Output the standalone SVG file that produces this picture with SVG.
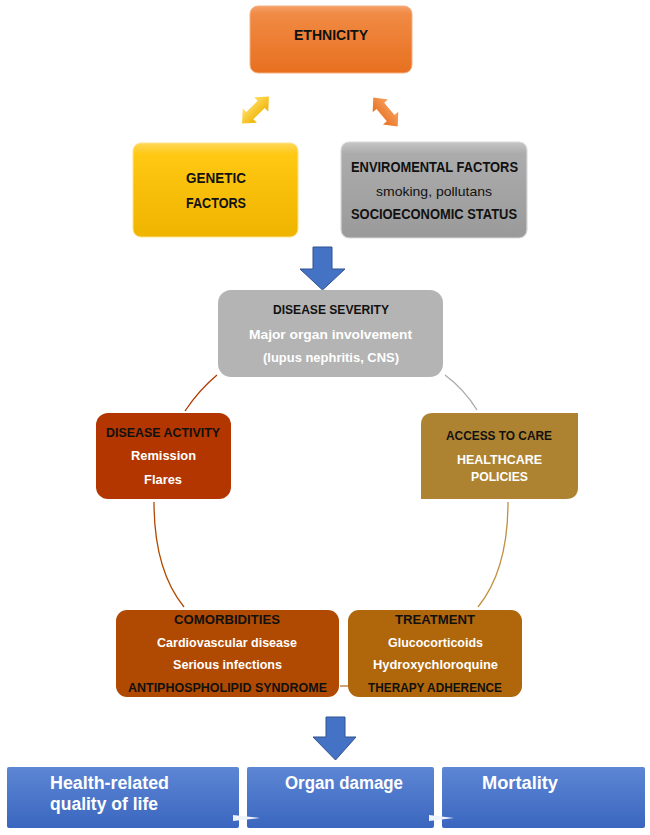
<svg xmlns="http://www.w3.org/2000/svg" width="650" height="835" viewBox="0 0 650 835">
<style>
text{font-family:"Liberation Sans",Arial,sans-serif;text-anchor:middle}
.b{font-weight:bold}
.k{fill:#111}
.w{fill:#fff}
.t13{font-size:13.5px}
.t14{font-size:14.5px}
.t18{font-size:18px;text-anchor:start}
.con{fill:none;stroke-width:1.3}
.blue{fill:#4472c4;stroke:#2f528f;stroke-width:1}
</style>
<defs>
<linearGradient id="gOr" x1="0" y1="0" x2="0" y2="1"><stop offset="0" stop-color="#f6a06a"/><stop offset="0.12" stop-color="#f08a44"/><stop offset="1" stop-color="#e8701f"/></linearGradient>
<linearGradient id="gYe" x1="0" y1="0" x2="0" y2="1"><stop offset="0" stop-color="#ffd75a"/><stop offset="0.12" stop-color="#ffc812"/><stop offset="1" stop-color="#efb400"/></linearGradient>
<linearGradient id="gGr" x1="0" y1="0" x2="0" y2="1"><stop offset="0" stop-color="#c6c6c6"/><stop offset="0.12" stop-color="#acacac"/><stop offset="1" stop-color="#9a9a9a"/></linearGradient>
<linearGradient id="gBl" x1="0" y1="0" x2="0" y2="1"><stop offset="0" stop-color="#5d86d4"/><stop offset="1" stop-color="#3a66bf"/></linearGradient>
<linearGradient id="gYA" x1="0" y1="0" x2="0" y2="1"><stop offset="0" stop-color="#ffe066"/><stop offset="1" stop-color="#f0b000"/></linearGradient>
<linearGradient id="gOA" x1="0" y1="0" x2="0" y2="1"><stop offset="0" stop-color="#f7a060"/><stop offset="1" stop-color="#e8701f"/></linearGradient>
<polygon id="dbl" points="-19,0 -8,-10 -8,-5 8,-5 8,-10 19,0 8,10 8,5 -8,5 -8,10"/>
</defs>

<g id="connectors">
<use href="#dbl" fill="url(#gYA)" transform="translate(255.5,110) rotate(-45)"/>
<use href="#dbl" fill="url(#gOA)" transform="translate(385.5,112) rotate(50)"/>
<polygon class="blue" points="313,247 332,247 332,269 345,269 322.5,290 300,269 313,269"/>
<path class="con" stroke="#b33600" d="M217,375 Q199,390 185,411"/>
<path class="con" stroke="#aaaaaa" d="M445,375 Q464,389 477,410"/>
<path class="con" stroke="#b04a00" d="M154,502 Q154,570 184,607"/>
<path class="con" stroke="#c09040" d="M508,502 Q508,570 478,607"/>
<path class="con" stroke="#b07030" d="M340,686 L348,686"/>
<polygon class="blue" points="326,717 345,717 345,737 356,737 335.5,760 313,737 326,737"/>
</g>

<g id="ethnicity">
<rect x="250" y="6" width="162" height="67" rx="8" fill="url(#gOr)" stroke="#f4b183" stroke-width="1"/>
<text class="b k t14" x="331" y="39.5" textLength="74" lengthAdjust="spacingAndGlyphs">ETHNICITY</text>
</g>

<g id="genetic">
<rect x="133" y="143" width="165" height="94" rx="8" fill="url(#gYe)" stroke="#ffe38a" stroke-width="1"/>
<text class="b k t14" x="216" y="183" textLength="60" lengthAdjust="spacingAndGlyphs">GENETIC</text>
<text class="b k t14" x="216" y="208" textLength="60" lengthAdjust="spacingAndGlyphs">FACTORS</text>
</g>

<g id="environmental">
<rect x="341" y="142" width="186" height="96" rx="8" fill="url(#gGr)" stroke="#d9d9d9" stroke-width="1.2"/>
<text class="b k t14" x="434.5" y="172" textLength="167" lengthAdjust="spacingAndGlyphs">ENVIROMENTAL FACTORS</text>
<text class="k t13" x="434" y="196" textLength="116" lengthAdjust="spacingAndGlyphs">smoking, pollutans</text>
<text class="b k t14" x="434" y="219" textLength="166" lengthAdjust="spacingAndGlyphs">SOCIOECONOMIC STATUS</text>
</g>

<g id="severity">
<rect x="218" y="290" width="225" height="87" rx="13" fill="#b4b4b4"/>
<text class="b k t13" x="331" y="314" textLength="116" lengthAdjust="spacingAndGlyphs">DISEASE SEVERITY</text>
<text class="b w t13" x="330.5" y="339" textLength="163" lengthAdjust="spacingAndGlyphs">Major organ involvement</text>
<text class="b w t13" x="331" y="362" textLength="136" lengthAdjust="spacingAndGlyphs">(lupus nephritis, CNS)</text>
</g>

<g id="activity">
<rect x="96" y="413" width="135" height="86" rx="12" fill="#b33600"/>
<text class="b k t13" x="163" y="437" textLength="114" lengthAdjust="spacingAndGlyphs">DISEASE ACTIVITY</text>
<text class="b w t13" x="163.5" y="460" textLength="65" lengthAdjust="spacingAndGlyphs">Remission</text>
<text class="b w t13" x="163" y="484" textLength="38" lengthAdjust="spacingAndGlyphs">Flares</text>
</g>

<g id="access">
<path d="M433,413 H578 V487 Q578,499 566,499 H421 V425 Q421,413 433,413 Z" fill="#ad8331"/>
<text class="b k t13" x="499" y="440" textLength="106" lengthAdjust="spacingAndGlyphs">ACCESS TO CARE</text>
<text class="b w t13" x="499.5" y="464" textLength="85" lengthAdjust="spacingAndGlyphs">HEALTHCARE</text>
<text class="b w t13" x="499.5" y="481" textLength="57" lengthAdjust="spacingAndGlyphs">POLICIES</text>
</g>

<g id="comorbidities">
<rect x="116" y="610" width="223" height="87" rx="11" fill="#b04a02"/>
<text class="b k t13" x="227" y="624" textLength="106" lengthAdjust="spacingAndGlyphs">COMORBIDITIES</text>
<text class="b w t13" x="227" y="647" textLength="140" lengthAdjust="spacingAndGlyphs">Cardiovascular disease</text>
<text class="b w t13" x="227.5" y="669" textLength="109" lengthAdjust="spacingAndGlyphs">Serious infections</text>
<text class="b k t13" x="227.5" y="692" textLength="199" lengthAdjust="spacingAndGlyphs">ANTIPHOSPHOLIPID SYNDROME</text>
</g>

<g id="treatment">
<rect x="348" y="610" width="174" height="87" rx="11" fill="#b0660a"/>
<text class="b k t13" x="435" y="624" textLength="80" lengthAdjust="spacingAndGlyphs">TREATMENT</text>
<text class="b w t13" x="435.5" y="647" textLength="95" lengthAdjust="spacingAndGlyphs">Glucocorticoids</text>
<text class="b w t13" x="435.5" y="669" textLength="125" lengthAdjust="spacingAndGlyphs">Hydroxychloroquine</text>
<text class="b k t13" x="435" y="692" textLength="134" lengthAdjust="spacingAndGlyphs">THERAPY ADHERENCE</text>
</g>

<g id="hrqol">
<rect x="7" y="767" width="232" height="61" rx="2" fill="url(#gBl)"/>
<text class="b w t18" x="50" y="789" textLength="119" lengthAdjust="spacingAndGlyphs">Health-related</text>
<text class="b w t18" x="50" y="810" textLength="108" lengthAdjust="spacingAndGlyphs">quality of life</text>
</g>

<g id="organ-damage">
<rect x="247" y="767" width="187" height="61" rx="2" fill="url(#gBl)"/>
<text class="b w t18" x="285" y="789" textLength="118" lengthAdjust="spacingAndGlyphs">Organ damage</text>
</g>

<g id="mortality">
<rect x="442" y="767" width="203" height="61" rx="2" fill="url(#gBl)"/>
<text class="b w t18" x="482" y="789" textLength="76" lengthAdjust="spacingAndGlyphs">Mortality</text>
</g>

<g id="process-arrows">
<polygon points="233,815 260,818 233,821" fill="#eef2fb"/>
<polygon points="429,815 454,818 429,821" fill="#eef2fb"/>
</g>
</svg>
